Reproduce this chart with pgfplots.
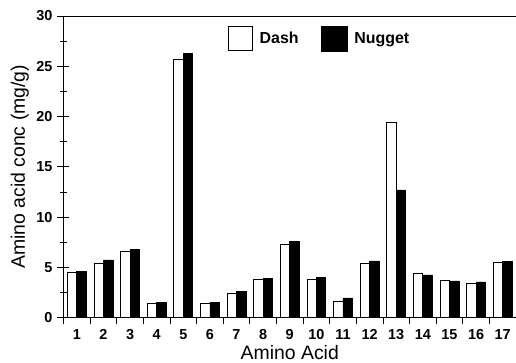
\documentclass[border=0pt]{standalone}
\usepackage{pgfplots}
\pgfplotsset{compat=1.18}
\usepackage{fontspec}
\setmainfont{Liberation Sans}
\pgfplotstableread{
x dash nugget
1 4.50 4.60
2 5.45 5.75
3 6.64 6.83
4 1.43 1.56
5 25.65 26.25
6 1.40 1.55
7 2.43 2.60
8 3.85 3.92
9 7.33 7.56
10 3.82 4.02
11 1.66 1.96
12 5.41 5.64
13 19.45 12.70
14 4.38 4.25
15 3.72 3.65
16 3.42 3.55
17 5.47 5.57
}\datatable
\begin{document}
\begin{tikzpicture}
\useasboundingbox (-63.5bp,-45.3bp) rectangle (452.5bp,317.7bp);
\begin{axis}[
  at={(0,0)}, anchor=south west,
  scale only axis,
  width=452.5bp, height=301.7bp,
  ybar=0pt, bar width=0.355,
  xmin=0.5, xmax=17.5,
  ymin=0, ymax=30,
  axis x line*=box, axis y line*=left,
  xtick pos=bottom, ytick pos=left,
  axis line style={line width=0.9pt},
  xtick={1,...,17},
  major x tick style={draw=none},
  minor xtick={0.5,1.5,...,17.5},
  minor x tick style={yshift=-3pt},
  ytick={0,5,...,30},
  minor ytick={2.5,7.5,...,27.5},
  tick align=center,
  major tick length=12bp,
  minor tick length=7bp,
  tick style={line width=0.8pt, black},
  /pgf/number format/assume math mode=true,
  tick label style={font=\bfseries\fontsize{14.5}{16}\selectfont},
  xticklabel style={yshift=-2.5bp},
  yticklabel style={xshift=-1.5bp},
  xlabel={Amino Acid},
  ylabel={Amino acid conc (mg/g)},
  label style={font=\fontsize{19.5}{22}\selectfont},
  xlabel style={at={(axis description cs:0.5,-0.1379)}, anchor=base},
  ylabel style={at={(axis description cs:-0.0851,0.5)}, anchor=base},
  legend columns=2,
  legend style={draw=none, fill=none, at={(rel axis cs:0.3635,0.9669)}, anchor=north west,
    inner sep=0pt, outer sep=0pt,
    font=\bfseries\fontsize{16}{18}\selectfont,
    /tikz/every even column/.append style={column sep=20bp}},
]
\addplot[draw=black, line width=0.7pt, fill=white,
  legend image code/.code={\draw[black, line width=0.7pt, fill=white] (0bp,-12bp) rectangle (24bp,12bp);}]
  table[x=x, y=dash] {\datatable};
\addlegendentry{\hspace{5bp}Dash}
\addplot[draw=black, line width=0.7pt, fill=black,
  legend image code/.code={\draw[black, fill=black] (0bp,-12.5bp) rectangle (26bp,12.5bp);}]
  table[x=x, y=nugget] {\datatable};
\addlegendentry{\hspace{5bp}Nugget}
\end{axis}
\end{tikzpicture}
\end{document}
